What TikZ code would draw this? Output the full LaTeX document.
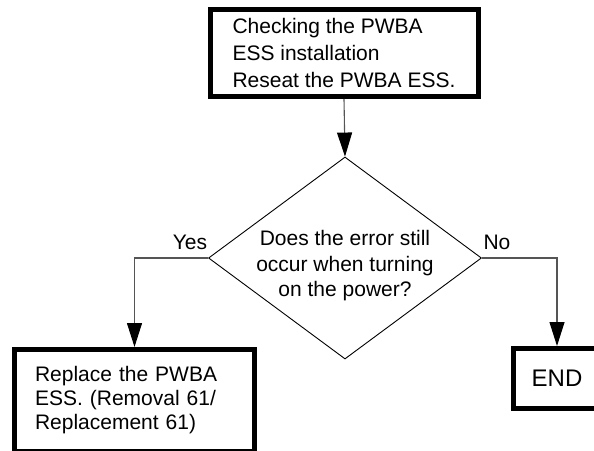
\documentclass[tikz,border=0pt]{standalone}
\usepackage{fontspec}
\setmainfont{Liberation Sans}
\usetikzlibrary{arrows.meta, positioning, shapes.geometric}
\definecolor{cline}{HTML}{555555}
\tikzset{
  every picture/.style={line width=0.9pt},
  box/.style={draw=black, line width=5pt, align=left, inner ysep=0pt, font=\fontsize{21}{27}\selectfont},
  decision/.style={draw=black, shape=diamond, line width=0.9pt, aspect=1.35, inner sep=0pt, minimum width=273pt, minimum height=202pt},
  arrow/.style={-{Triangle[length=24pt, width=15pt, color=black]}, draw=cline, line width=1.1pt},
  note/.style={font=\fontsize{21}{25.5}\selectfont, align=center},
}

\begin{document}
\begin{tikzpicture}[x=1pt, y=-1pt]
  \useasboundingbox (0,0) rectangle (594,450);
  % boxes
  \node[box, minimum width=268pt, minimum height=87pt] (check) at (344,53)
    {Checking the PWBA\\ESS installation\\Reseat the PWBA ESS.};
  \node[decision] (q) at (345,258) {};
  \node[note] (qtext) at (345,266) {Does the error still\\occur when turning\\on the power?};
  \node[box, text width=199pt, inner xsep=20.5pt, minimum height=101.5pt, font=\fontsize{21}{24}\selectfont] (replace) at (134.5,400.25)
    {Replace the PWBA\\ESS. (Removal 61/\\Replacement 61)};
  \node[box, align=center, minimum width=87pt, minimum height=60pt, font=\fontsize{24}{28}\selectfont] (end) at (557,378.5) {END};
  % connectors
  \draw[arrow] (check.south) -- (q.north);
  \draw[arrow] (q.west) -| (replace.north);
  \draw[arrow] (q.east) -| (end.north);
  \node[note, anchor=base] (yes) at (190,249) {Yes};
  \node[note, anchor=base] (no) at (497,249) {No};
\end{tikzpicture}
\end{document}
